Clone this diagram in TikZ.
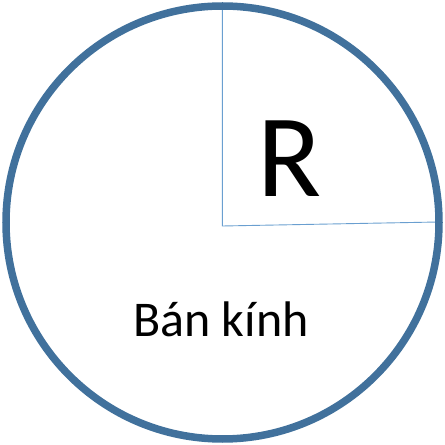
\documentclass[tikz,border=0pt]{standalone}
\usepackage{fontspec}
\setmainfont{Carlito}
\usepackage{tikz}
\definecolor{rimblue}{HTML}{41719C}
\definecolor{radblue}{HTML}{6A9FD0}

\begin{document}
\begin{tikzpicture}[x=1pt,y=1pt]
        \useasboundingbox (0,0) rectangle (445,445);
        %
        \coordinate (centre) at (222.3,219);
        \coordinate (top) at (222.3,439);
        \coordinate (rim) at (438,223);
        %
        \draw [radblue, line width=0.9pt] (top) -- (centre) -- (rim);
        \draw [rimblue, line width=7.5pt] (222.5,222.5) circle (216.5);
        %
        \node [font=\fontsize{118}{118}\selectfont, anchor=base] (r) at (290,248) {R};
        \node [font=\fontsize{50}{50}\selectfont, anchor=base] (label) at (221,108) {Bán kính};
      \end{tikzpicture}
\end{document}
